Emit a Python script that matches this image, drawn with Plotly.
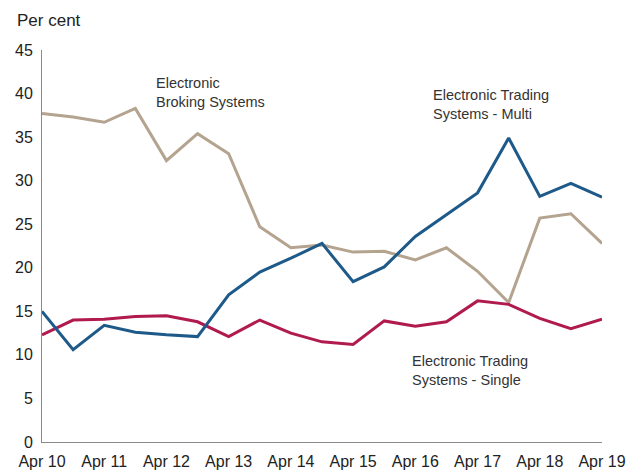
import plotly.graph_objects as go

periods = ["Apr 10", "Oct 10", "Apr 11", "Oct 11", "Apr 12", "Oct 12", "Apr 13", "Oct 13",
           "Apr 14", "Oct 14", "Apr 15", "Oct 15", "Apr 16", "Oct 16", "Apr 17", "Oct 17",
           "Apr 18", "Oct 18", "Apr 19"]
broking = [37.7, 37.3, 36.7, 38.3, 32.3, 35.4, 33.1, 24.7, 22.3, 22.6, 21.8, 21.9, 20.9,
           22.3, 19.6, 16.0, 25.7, 26.2, 22.8]
multi = [15.0, 10.6, 13.4, 12.6, 12.3, 12.1, 16.9, 19.5, 21.1, 22.8, 18.4, 20.1, 23.6,
         26.1, 28.6, 34.9, 28.2, 29.7, 28.1]
single = [12.3, 14.0, 14.1, 14.4, 14.5, 13.8, 12.1, 14.0, 12.5, 11.5, 11.2, 13.9, 13.3,
          13.8, 16.2, 15.8, 14.2, 13.0, 14.1]
tick_labels = ["Apr 10", "Apr 11", "Apr 12", "Apr 13", "Apr 14", "Apr 15", "Apr 16",
               "Apr 17", "Apr 18", "Apr 19"]
y_ticks = [0, 5, 10, 15, 20, 25, 30, 35, 40, 45]

x = list(range(len(periods)))
tick_pos = [periods.index(t) for t in tick_labels]

fig = go.Figure()
fig.add_trace(go.Scatter(x=x, y=broking, mode="lines", line=dict(color="#b3a38f", width=3),
                         name="Electronic Broking Systems"))
fig.add_trace(go.Scatter(x=x, y=single, mode="lines", line=dict(color="#b01a4e", width=3),
                         name="Electronic Trading Systems - Single"))
fig.add_trace(go.Scatter(x=x, y=multi, mode="lines", line=dict(color="#1e5a89", width=3),
                         name="Electronic Trading Systems - Multi"))

font = "Liberation Sans, Arial, sans-serif"
fig.update_layout(
    width=629, height=475,
    margin=dict(l=42, r=27, t=50, b=33),
    paper_bgcolor="white", plot_bgcolor="white",
    showlegend=False,
    font=dict(family=font, size=16, color="#222222"),
    xaxis=dict(range=[0, 18], tickvals=tick_pos, ticktext=tick_labels, showgrid=False,
               zeroline=False, showline=True, linecolor="#8a8a8a", linewidth=1,
               ticks="outside", ticklen=5, tickcolor="rgba(0,0,0,0)",
               tickfont=dict(size=16), automargin=False),
    yaxis=dict(range=[0, 45], tickvals=y_ticks, showgrid=False, zeroline=False,
               showline=True, linecolor="#8a8a8a", linewidth=1, ticks="outside",
               ticklen=5, tickcolor="rgba(0,0,0,0)", tickfont=dict(size=16),
               automargin=False),
    annotations=[
        dict(text="Per cent", xref="paper", yref="paper", x=-27/560, y=1 + 30/392,
             xanchor="left", yanchor="middle", showarrow=False, font=dict(size=17)),
        dict(text="Electronic<br>Broking Systems", xref="x", yref="y", x=3.6, y=40.1,
             xanchor="left", yanchor="middle", showarrow=False, align="left",
             font=dict(size=14.5, color="#333333")),
        dict(text="Electronic Trading<br>Systems - Multi", xref="x", yref="y", x=12.5, y=38.8,
             xanchor="left", yanchor="middle", showarrow=False, align="left",
             font=dict(size=14.5, color="#333333")),
        dict(text="Electronic Trading<br>Systems - Single", xref="x", yref="y", x=11.83, y=8.2,
             xanchor="left", yanchor="middle", showarrow=False, align="left",
             font=dict(size=14.5, color="#333333")),
    ],
)

fig.write_html("out.html")
